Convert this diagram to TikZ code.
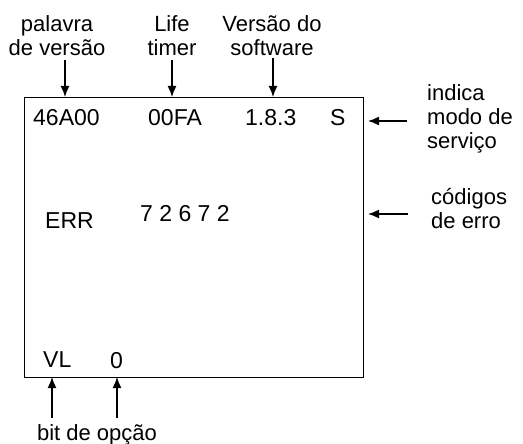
\documentclass[tikz,border=0pt]{standalone}
\usepackage{fontspec}
\setmainfont{Liberation Sans}
\usetikzlibrary{arrows.meta}
\begin{document}
\begin{tikzpicture}[x=1pt,y=-1pt,
  lbl/.style={font=\fontsize{22}{24}\selectfont, align=center, inner sep=0pt},
  val/.style={font=\fontsize{23}{26}\selectfont, inner sep=0pt},
  arr/.style={-{Latex[length=11pt,width=9pt]}, line width=1.5pt},
  frame/.style={draw, line width=1pt}]
\useasboundingbox (0,0) rectangle (523,444);
\node[frame, minimum width=339pt, minimum height=280pt, anchor=north west] (box) at (24,97) {};
% top labels
\node[lbl, anchor=north] (pv) at (57,15) {palavra\\de versão};
\node[lbl, anchor=north] (lt) at (172,15) {Life\\timer};
\node[lbl, anchor=north] (vs) at (272,15) {Versão do\\software};
\coordinate (pvt) at (65,97);
\coordinate (ltt) at (172,97);
\coordinate (vst) at (273,97);
\draw[arr] (65,60) -- (pvt);
\draw[arr] (172,60) -- (ltt);
\draw[arr] (273,58) -- (vst);
% row 1
\node[val, anchor=base west] (v1) at (33,126) {46A00};
\node[val, anchor=base west] (v2) at (148,126) {00FA};
\node[val, anchor=base west] (v3) at (245,126) {1.8.3};
\node[val, anchor=base west] (v4) at (330,126) {S};
% right labels
\node[lbl, align=left, anchor=north west] (im) at (427,84) {indica\\modo de\\serviço};
\coordinate (imt) at (368,121);
\draw[arr] (407,121) -- (imt);
% error row
\node[val, anchor=base west] (err) at (45,229) {ERR};
\node[val, anchor=base west] (codes) at (140,222) {7 2 6 7 2};
\node[lbl, align=left, anchor=north west] (ce) at (431,188) {códigos\\de erro};
\coordinate (cet) at (368,214);
\draw[arr] (408,214) -- (cet);
% bottom row
\node[val, anchor=base west] (vl) at (43,367) {VL};
\node[val, anchor=base west] (zero) at (110,368) {0};
\node[lbl, anchor=north] (bo) at (97,424) {bit de opção};
\coordinate (vlt) at (52,377);
\coordinate (zt) at (117,377);
\draw[arr] (52,418) -- (vlt);
\draw[arr] (117,418) -- (zt);
\end{tikzpicture}
\end{document}
